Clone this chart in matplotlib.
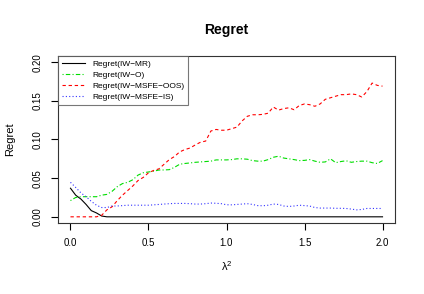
import numpy as np
import matplotlib
matplotlib.use("Agg")
import matplotlib.pyplot as plt

plt.rcParams['font.family'] = ['Liberation Sans', 'DejaVu Sans']
plt.rcParams['mathtext.fontset'] = 'custom'
plt.rcParams['mathtext.rm'] = 'Liberation Sans'
plt.rcParams['mathtext.it'] = 'Liberation Sans'

x = np.linspace(0, 2, 61)

regret_mr = [0.037, 0.028, 0.023, 0.016, 0.008, 0.005, 0.001] + [0.0] * 54

regret_o = [0.021, 0.025, 0.026, 0.026, 0.026, 0.026, 0.028, 0.029, 0.033, 0.039,
            0.043, 0.0446, 0.048, 0.054, 0.057, 0.058, 0.059, 0.0605, 0.0606, 0.061,
            0.064, 0.068, 0.069, 0.0697, 0.0705, 0.071, 0.0715, 0.072, 0.0736, 0.0736,
            0.0736, 0.074, 0.075, 0.075, 0.0745, 0.0727, 0.072, 0.072, 0.074, 0.077,
            0.0784, 0.076, 0.075, 0.074, 0.0727, 0.073, 0.074, 0.072, 0.0705, 0.071,
            0.075, 0.070, 0.0715, 0.0725, 0.0705, 0.0715, 0.072, 0.072, 0.070, 0.069,
            0.0727]

regret_oos = [0.0, 0.0, 0.0, 0.0, 0.0, 0.0, 0.002, 0.009, 0.013, 0.021,
              0.028, 0.034, 0.040, 0.047, 0.051, 0.057, 0.060, 0.062, 0.068, 0.074,
              0.078, 0.084, 0.087, 0.089, 0.093, 0.0965, 0.098, 0.111, 0.113, 0.112,
              0.112, 0.114, 0.116, 0.124, 0.130, 0.132, 0.132, 0.1325, 0.134, 0.142,
              0.138, 0.140, 0.141, 0.1385, 0.144, 0.146, 0.145, 0.143, 0.146, 0.152,
              0.154, 0.156, 0.158, 0.158, 0.159, 0.158, 0.155, 0.162, 0.173, 0.170,
              0.169]

regret_is = [0.0446, 0.038, 0.031, 0.026, 0.020, 0.015, 0.012, 0.012, 0.014, 0.014,
             0.0145, 0.015, 0.015, 0.015, 0.015, 0.015, 0.0155, 0.016, 0.0165, 0.017,
             0.0173, 0.0173, 0.0173, 0.017, 0.0165, 0.0165, 0.017, 0.0178, 0.0175, 0.017,
             0.0156, 0.0155, 0.016, 0.0165, 0.017, 0.016, 0.0145, 0.0143, 0.015, 0.0165,
             0.016, 0.014, 0.0134, 0.014, 0.015, 0.0145, 0.0139, 0.012, 0.0113, 0.0113,
             0.0113, 0.011, 0.011, 0.0108, 0.010, 0.009, 0.0095, 0.0108, 0.0108, 0.0108,
             0.0108]

labels = ["Regret(IW\u2212MR)", "Regret(IW\u2212O)", "Regret(IW\u2212MSFE\u2212OOS)", "Regret(IW\u2212MSFE\u2212IS)"]
xticks = [0.0, 0.5, 1.0, 1.5, 2.0]
yticks = [0.00, 0.05, 0.10, 0.15, 0.20]

fig = plt.figure(figsize=(4.24, 2.94), dpi=100)
ax = fig.add_axes([58/424, 1 - 223/294, (395 - 58)/424, (223 - 56)/294])

lw = 0.8
ax.plot(x, regret_mr, color='black', lw=lw, ls='-', label=labels[0])
ax.plot(x, regret_o, color='#00dd00', lw=lw, ls=(0, (1, 2, 4, 2)), label=labels[1])
ax.plot(x, regret_oos, color='#ff0000', lw=lw, ls=(0, (3, 2.5)), label=labels[2])
ax.plot(x, regret_is, color='#3333ff', lw=lw, ls=(0, (1, 2)), label=labels[3])

ax.set_xlim(-0.08, 2.08)
ax.set_ylim(-0.008, 0.208)
ax.set_xticks(xticks)
ax.set_xticklabels([f"{t:.1f}" for t in xticks])
ax.set_yticks(yticks)
ax.set_yticklabels([f"{t:.2f}" for t in yticks], rotation=90, va='center')
ax.tick_params(direction='out', length=5, width=0.8, labelsize=7, pad=6, colors='black')
ax.tick_params(axis='y', pad=6)
for s in ax.spines.values():
    s.set_linewidth(0.8)
    s.set_color('#333333')

ax.set_title("Regret", fontsize=10, fontweight='bold', pad=16)
ax.set_xlabel("$\\mathregular{\\lambda^2}$", fontsize=8, labelpad=8)
ax.set_ylabel("Regret", fontsize=8, labelpad=13)

leg = ax.legend(loc='upper left', bbox_to_anchor=(0, 1), borderaxespad=0,
                fontsize=6.0, fancybox=False, frameon=True, handlelength=2.8,
                handletextpad=0.9, labelspacing=0.4, borderpad=0.45)
leg.get_frame().set_edgecolor('#555555')
leg.get_frame().set_linewidth(0.8)

fig.savefig("out.png", dpi=100)
